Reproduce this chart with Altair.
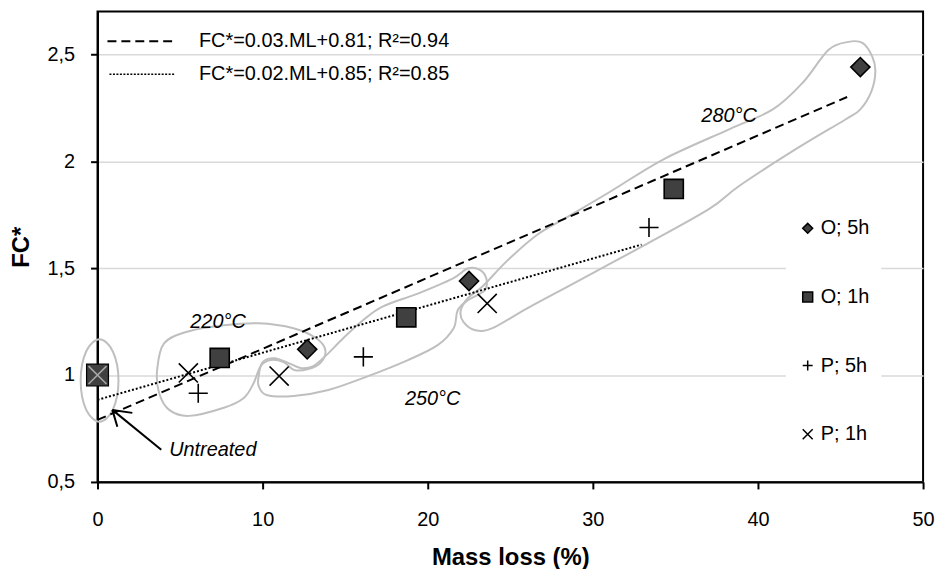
import altair as alt
import pandas as pd

# ---------------- data ----------------
series = ["O; 5h", "O; 1h", "P; 5h", "P; 1h"]
ml_o5 = [12.7, 22.5, 46.2]
fc_o5 = [1.12, 1.44, 2.44]
ml_o1 = [7.4, 18.7, 34.9]
fc_o1 = [1.08, 1.27, 1.87]
ml_p5 = [6.1, 16.1, 33.4]
fc_p5 = [0.915, 1.085, 1.69]
ml_p1 = [5.5, 11.0, 23.6]
fc_p1 = [1.01, 0.995, 1.335]
untreated_ml = [0.0]
untreated_fc = [1.0]

trend_labels = ["FC*=0.03.ML+0.81; R²=0.94", "FC*=0.02.ML+0.85; R²=0.85"]
trend1_ml = [0.0, 45.4]
trend1_fc = [0.79, 2.30]
trend2_ml = [0.0, 32.95]
trend2_fc = [0.884, 1.61]

x_ticks = [0, 10, 20, 30, 40, 50]
y_ticks = [0.5, 1, 1.5, 2, 2.5]

# group annotations
temp_labels = ["220°C", "250°C", "280°C"]
temp_ml = [7.3, 20.3, 38.25]
temp_fc = [1.247, 0.888, 2.209]
untreated_label = "Untreated"
untreated_label_ml = [4.34]
untreated_label_fc = [0.651]

# outlines around the groups (ML, FC*)
ell_ml = [1.27, 0.93, 0.12, -0.69, -1.02, -0.69, 0.12, 0.93]
ell_fc = [0.974, 1.11, 1.167, 1.11, 0.974, 0.838, 0.781, 0.838]
b220_ml = [3.61, 4.04, 5.54, 7.65, 9.76, 11.87, 13.25, 13.80, 13.49, 12.77, 11.93, 11.27,
           10.48, 9.88, 9.46, 8.86, 7.65, 5.54, 4.34, 3.73]
b220_fc = [1.023, 1.149, 1.205, 1.233, 1.242, 1.219, 1.172, 1.116, 1.056, 1.028, 1.023, 1.060,
           1.070, 1.042, 0.963, 0.893, 0.847, 0.809, 0.837, 0.916]
b250_ml = [9.76, 10.0, 10.72, 11.57, 12.29, 13.07, 13.86, 14.88, 16.08, 17.29, 19.40, 21.51,
           22.41, 23.13, 23.55, 23.43, 22.41, 21.81, 21.57, 20.60, 18.80, 16.39, 13.98, 11.87,
           10.24, 9.76]
b250_fc = [0.995, 1.060, 1.079, 1.056, 1.033, 1.042, 1.093, 1.172, 1.256, 1.321, 1.381, 1.451,
           1.498, 1.493, 1.451, 1.395, 1.349, 1.302, 1.219, 1.140, 1.070, 0.995, 0.930, 0.902,
           0.907, 0.949]
b280_ml = [21.99, 22.41, 23.31, 24.82, 26.63, 28.25, 31.02, 34.28, 38.25, 40.90, 42.71, 44.28,
           45.48, 46.33, 46.93, 47.11, 46.87, 46.20, 45.30, 42.29, 38.86, 37.05, 33.07, 29.04,
           26.02, 23.92, 22.89, 22.17]
b280_fc = [1.298, 1.358, 1.414, 1.535, 1.656, 1.730, 1.856, 2.009, 2.149, 2.242, 2.367, 2.521,
           2.558, 2.553, 2.488, 2.419, 2.326, 2.242, 2.195, 2.056, 1.884, 1.777, 1.605, 1.437,
           1.312, 1.219, 1.209, 1.247]

# arrow pointing to the untreated sample
arrow_ml = [3.86, 0.9]
arrow_fc = [0.651, 0.837]
head1_ml = [0.9, 2.11]
head1_fc = [0.837, 0.823]
head2_ml = [0.9, 1.2]
head2_fc = [0.837, 0.758]

# ---------------- tables ----------------
pts = pd.DataFrame({
    "series": [series[0]] * 3 + [series[1]] * 3 + [series[2]] * 3 + [series[3]] * 3,
    "ml": ml_o5 + ml_o1 + ml_p5 + ml_p1,
    "fc": fc_o5 + fc_o1 + fc_p5 + fc_p1,
})
unt = pd.DataFrame({"ml": untreated_ml, "fc": untreated_fc})

def outline(name, xs, ys):
    return pd.DataFrame({"name": name, "i": list(range(len(xs))), "ml": xs, "fc": ys})

blobs = pd.concat([outline("220", b220_ml, b220_fc),
                   outline("250", b250_ml, b250_fc),
                   outline("280", b280_ml, b280_fc)])
ell = outline("untreated", ell_ml, ell_fc)
arrow = pd.concat([outline("shaft", arrow_ml, arrow_fc),
                   outline("h1", head1_ml, head1_fc),
                   outline("h2", head2_ml, head2_fc)])
tr1 = pd.DataFrame({"ml": trend1_ml, "fc": trend1_fc})
tr2 = pd.DataFrame({"ml": trend2_ml, "fc": trend2_fc})
temps = pd.DataFrame({"t": temp_labels, "ml": temp_ml, "fc": temp_fc})
untl = pd.DataFrame({"t": [untreated_label], "ml": untreated_label_ml, "fc": untreated_label_fc})

FONT = "Liberation Sans"
PLUS = "M-1,0L1,0M0,-1L0,1"
XMARK = "M-1,-1L1,1M-1,1L1,-1"

x_enc = alt.X("ml:Q", title="Mass loss (%)",
              scale=alt.Scale(domain=[0, 50], nice=False, zero=False),
              axis=alt.Axis(values=x_ticks, grid=False, labelPadding=21, titlePadding=16,
                            labelFlush=False))
y_enc = alt.Y("fc:Q", title="FC*",
              scale=alt.Scale(domain=[0.5, 2.7], nice=False, zero=False),
              axis=alt.Axis(values=y_ticks, grid=True, gridColor="#d9d9d9", gridWidth=1.5,
                            labelPadding=16, titlePadding=14, labelFlush=False,
                            labelExpr="replace(toString(datum.value), '.', ',')"))

ellipse_layer = alt.Chart(ell).mark_line(
    interpolate="cardinal-closed", stroke="#bfbfbf", strokeWidth=2, clip=False
).encode(x=x_enc, y=y_enc, order="i:Q")

blob_layer = alt.Chart(blobs).mark_line(
    interpolate="cardinal-closed", stroke="#bfbfbf", strokeWidth=2
).encode(x=x_enc, y=y_enc, detail="name:N", order="i:Q")

trend1_layer = alt.Chart(tr1).mark_line(
    color="black", strokeWidth=2, strokeDash=[9, 5]
).encode(x=x_enc, y=y_enc)
trend2_layer = alt.Chart(tr2).mark_line(
    color="black", strokeWidth=2, strokeDash=[2, 2]
).encode(x=x_enc, y=y_enc)

arrow_layer = alt.Chart(arrow).mark_line(color="black", strokeWidth=2, clip=False).encode(
    x=x_enc, y=y_enc, detail="name:N", order="i:Q")

legend_def = alt.Legend(
    orient="none", legendX=692, legendY=196, title=None,
    labelFont=FONT, labelFontSize=20, labelColor="black",
    symbolSize=100, rowPadding=49, padding=12, labelOffset=3,
    fillColor="white", symbolStrokeWidth=1.5, symbolOpacity=1,
)

point_layer = alt.Chart(pts).mark_point(
    filled=True, strokeWidth=1.6, opacity=1, size=370
).encode(
    x=x_enc, y=y_enc,
    shape=alt.Shape("series:N",
                    scale=alt.Scale(domain=series, range=["diamond", "square", PLUS, XMARK]),
                    legend=legend_def),
    fill=alt.Fill("series:N", scale=alt.Scale(domain=series, range=["#404040"] * 4),
                  legend=legend_def),
    stroke=alt.Stroke("series:N", scale=alt.Scale(domain=series, range=["black"] * 4),
                      legend=legend_def),
)

unt_sq = alt.Chart(unt).mark_point(
    shape="square", size=484, filled=True, fill="#404040", stroke="black",
    strokeWidth=1.2, opacity=1
).encode(x=x_enc, y=y_enc)
unt_x = alt.Chart(unt).mark_point(
    shape=XMARK, size=324, filled=False, stroke="#a6a6a6", strokeWidth=1.6, opacity=1
).encode(x=x_enc, y=y_enc)

temp_layer = alt.Chart(temps).mark_text(
    font=FONT, fontSize=20, fontStyle="italic", color="black", align="center",
    baseline="middle"
).encode(x=x_enc, y=y_enc, text="t:N")
untl_layer = alt.Chart(untl).mark_text(
    font=FONT, fontSize=20, fontStyle="italic", color="black", align="left",
    baseline="middle"
).encode(x=x_enc, y=y_enc, text="t:N")

one = pd.DataFrame({"a": [0]})
leg_dash = alt.Chart(one).mark_rule(color="black", strokeWidth=2, strokeDash=[9, 5]).encode(
    x=alt.value(10), x2=alt.value(75), y=alt.value(30))
leg_dot = alt.Chart(one).mark_rule(color="black", strokeWidth=1.5, strokeDash=[2, 1.5]).encode(
    x=alt.value(12), x2=alt.value(77), y=alt.value(63))
leg_t1 = alt.Chart(one).mark_text(font=FONT, fontSize=20, color="black", align="left",
                                  baseline="middle").encode(
    x=alt.value(102), y=alt.value(30), text=alt.value(trend_labels[0]))
leg_t2 = alt.Chart(one).mark_text(font=FONT, fontSize=20, color="black", align="left",
                                  baseline="middle").encode(
    x=alt.value(102), y=alt.value(63), text=alt.value(trend_labels[1]))

chart = alt.layer(
    ellipse_layer, blob_layer, trend1_layer, trend2_layer, arrow_layer,
    point_layer, unt_sq, unt_x, temp_layer, untl_layer,
    leg_dash, leg_dot, leg_t1, leg_t2,
).properties(
    width=830, height=473,
    autosize=alt.AutoSizeParams(type="none"),
    padding={"left": 90, "top": 2, "right": 14, "bottom": 86},
).configure_view(
    stroke="black", strokeWidth=2
).configure_axis(
    domainColor="black", domainWidth=2, tickColor="black", tickWidth=2, tickSize=7,
    labelFont=FONT, labelFontSize=20, labelColor="black",
    titleFont=FONT, titleFontSize=24, titleFontWeight="bold", titleColor="black",
)

chart.save("out.html", embed_options={"renderer": "svg", "actions": False})
